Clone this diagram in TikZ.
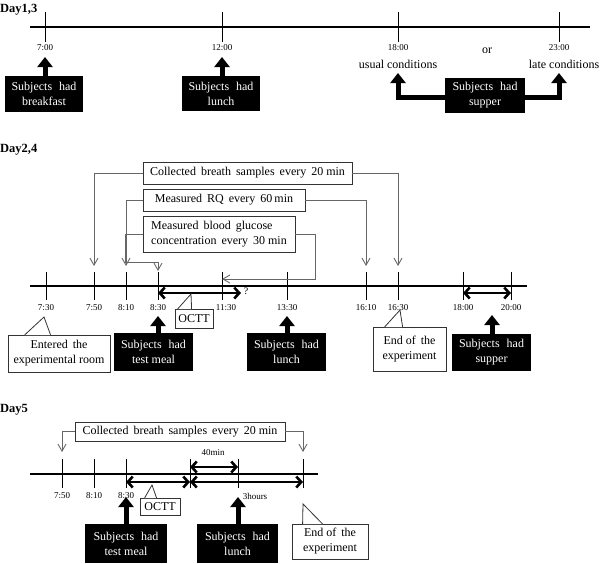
\documentclass[tikz,border=0pt]{standalone}
\usepackage{fontspec}
\setmainfont{Liberation Serif}
\usetikzlibrary{arrows.meta,calc}
\tikzset{
 tl/.style={line width=1.8pt},
 tk/.style={line width=0.8pt},
 lab/.style={font=\fontsize{9}{10}\selectfont, inner sep=0pt},
 mid/.style={font=\fontsize{12}{14}\selectfont, inner sep=0pt},
 dayl/.style={font=\bfseries\fontsize{12.5}{14}\selectfont, anchor=west, inner sep=0pt},
 bbox/.style={fill=black, text=white, font=\fontsize{12}{15}\selectfont, align=center, inner sep=0pt},
 wbox/.style={draw=black!80, fill=white, line width=0.8pt, font=\fontsize{12}{15}\selectfont, align=center, inner sep=0pt},
 uparr/.style={line width=5pt, line join=miter, -{Triangle[width=15pt,length=10pt]}},
 darr/.style={line width=2.6pt, {Straight Barb[length=5pt,width=11pt]}-{Straight Barb[length=5pt,width=11pt]}},
 conn/.style={draw=black!60, line width=0.9pt, -{Straight Barb[length=7pt,width=8pt]}},
 wedge/.style={draw=black!80, fill=white, line width=0.8pt},
}
\newcommand{\sh}{Subjects\hspace{7pt}had}
\begin{document}
\begin{tikzpicture}[x=1pt,y=-1pt]
\useasboundingbox (0,0) rectangle (600,563);
% ================= Day1,3 =================
\node[dayl] (d13) at (0,10) {Day1,3};
\coordinate (a0) at (30,27); \coordinate (a1) at (590,27);
\draw[tl] (a0) -- (a1);
\foreach \x in {45,222,398,559} \draw[tk] (\x,12) -- (\x,42);
\node[lab] (l700) at (45,48) {7:00};
\node[lab] (l1200) at (222,48) {12:00};
\node[lab] (l1800) at (398,48) {18:00};
\node[lab] (l2300) at (559,48) {23:00};
\node[mid] (or) at (487,51) {or};
\node[mid] (usual) at (398,64) {usual conditions};
\node[mid] (late) at (564,64) {late conditions};
\node[bbox, minimum width=78pt, minimum height=36pt] (bf) at (44,94) {\sh\\breakfast};
\node[bbox, minimum width=78pt, minimum height=35pt] (lu1) at (221,93.5) {\sh\\lunch};
\node[bbox, minimum width=80pt, minimum height=35pt] (su1) at (485,95.5) {\sh\\supper};
\coordinate (bfa) at (45,57); \coordinate (lua) at (222,57);
\coordinate (ua) at (398,73); \coordinate (la) at (559,73);
\draw[uparr] (bf.north -| bfa) -- (bfa);
\draw[uparr] (lu1.north -| lua) -- (lua);
\draw[uparr] ($(su1.west)+(1,2)$) -| (ua);
\draw[uparr] ($(su1.east)+(-1,2)$) -| (la);
% ================= Day2,4 =================
\node[dayl] (d24) at (0,150) {Day2,4};
\coordinate (b0) at (30,286); \coordinate (b1) at (527,286);
\draw[tl] (b0) -- (b1);
\foreach \x in {46,94,126,158,222,287,366,398,463,511} \draw[tk] (\x,272) -- (\x,300);
\node[lab] (m730) at (46,308) {7:30};
\node[lab] (m750) at (94,308) {7:50};
\node[lab] (m810) at (126,308) {8:10};
\node[lab] (m830) at (158,308) {8:30};
\node[lab] (m1130) at (226,308) {11:30};
\node[lab] (m1330) at (287,308) {13:30};
\node[lab] (m1610) at (366,308) {16:10};
\node[lab] (m1630) at (398,308) {16:30};
\node[lab] (m1800) at (463,308) {18:00};
\node[lab] (m2000) at (511,308) {20:00};
\coordinate (o1) at (158,293); \coordinate (o2) at (241,293);
\draw[darr] (o1) -- (o2);
\node[mid, font=\fontsize{10}{12}\selectfont] (q) at (246,291) {?};
\coordinate (s1) at (463,293); \coordinate (s2) at (511,293);
\draw[darr] (s1) -- (s2);
% boxes
\node[wbox, minimum width=209pt, minimum height=22pt] (cb) at (247.5,173) {Collected\hspace{5pt}breath\hspace{5pt}samples\hspace{5pt}every\hspace{5pt}20 min};
\node[wbox, minimum width=162pt, minimum height=22pt] (rq) at (224,200) {Measured\hspace{5pt}RQ\hspace{5pt}every\hspace{5pt}60\,min};
\node[wbox, minimum width=152pt, minimum height=36pt, align=left] (bg) at (219,234) {Measured\hspace{5pt}blood\hspace{5pt}glucose\\concentration\hspace{5pt}every\hspace{5pt}30 min};
\coordinate (c750) at (94,266); \coordinate (c1630) at (398,266);
\coordinate (c810) at (126,266); \coordinate (c1610) at (366,266);
\coordinate (g1) at (125,262); \coordinate (g2) at (158,271);
\coordinate (g3) at (315,279); \coordinate (g4) at (222,279);
\draw[conn] (cb.west) -| (c750);
\draw[conn] (cb.east) -| (c1630);
\draw[conn] (rq.west) -| (c810);
\draw[conn] (rq.east) -| (c1610);
\draw[conn] (bg.west) -| (g1) -| (g2);
\draw[conn] (bg.east) -| (g3) -- (g4);
% callouts
\node[wbox, minimum width=38pt, minimum height=19pt] (oc) at (194,318.5) {OCTT};
\draw[wedge] ($(oc.north west)+(3,0.4)$) -- (191,294) -- ($(oc.north west)+(17,0.4)$);
\node[wbox, minimum width=102pt, minimum height=37pt] (en) at (59,353.5) {Entered\hspace{5pt}the\\experimental room};
\draw[wedge] ($(en.north west)+(17,0.4)$) -- (44,317) -- ($(en.north west)+(43,0.4)$);
\node[wbox, minimum width=73pt, minimum height=44pt] (ee) at (409.5,349) {End of\hspace{5pt}the\\experiment};
\draw[wedge] ($(ee.north west)+(12,0.4)$) -- (400,310) -- ($(ee.north west)+(30,0.4)$);
% black boxes
\node[bbox, minimum width=79pt, minimum height=38pt] (tm2) at (153.5,352) {\sh\\test meal};
\node[bbox, minimum width=79pt, minimum height=38pt] (lu2) at (286.5,352) {\sh\\lunch};
\node[bbox, minimum width=79pt, minimum height=37pt] (su2) at (491.5,352.5) {\sh\\supper};
\coordinate (tma) at (158,316); \coordinate (lu2a) at (287,316); \coordinate (su2a) at (492,315);
\draw[uparr] (tm2.north -| tma) -- (tma);
\draw[uparr] (lu2.north -| lu2a) -- (lu2a);
\draw[uparr] (su2.north -| su2a) -- (su2a);
% ================= Day5 =================
\node[dayl] (d5) at (0,410) {Day5};
\coordinate (e0) at (30,474); \coordinate (e1) at (318,474);
\draw[tl] (e0) -- (e1);
\foreach \x in {62,94,126,190,238,303} \draw[tk] (\x,459) -- (\x,488);
\node[lab] (n750) at (62,496) {7:50};
\node[lab] (n810) at (94,496) {8:10};
\node[lab] (n830) at (126,496) {8:30};
\node[lab] (n3h) at (255,496) {3hours};
\node[lab] (n40) at (213,453) {40min};
\coordinate (f1) at (190,467); \coordinate (f2) at (238,467);
\coordinate (f3) at (126,482); \coordinate (f4) at (190,482); \coordinate (f5) at (303,482);
\draw[darr] (f1) -- (f2);
\draw[darr] (f3) -- (f4);
\draw[darr] (f4) -- (f5);
\node[wbox, minimum width=210pt, minimum height=19pt] (cb5) at (180,431.5) {Collected\hspace{5pt}breath\hspace{5pt}samples\hspace{5pt}every\hspace{5pt}20 min};
\coordinate (h1) at (62,452); \coordinate (h2) at (303,452);
\draw[conn] (cb5.west) -| (h1);
\draw[conn] (cb5.east) -| (h2);
\node[wbox, minimum width=40pt, minimum height=17pt] (oc5) at (160,506.5) {OCTT};
\draw[wedge] ($(oc5.north west)+(5,0.4)$) -- (152,485) -- ($(oc5.north west)+(17,0.4)$);
\node[wbox, minimum width=76pt, minimum height=35pt] (ee5) at (330,541.5) {End of\hspace{5pt}the\\experiment};
\draw[wedge] ($(ee5.north west)+(11,0.4)$) -- (303,504) -- ($(ee5.north west)+(31,0.4)$);
\node[bbox, minimum width=82pt, minimum height=39pt] (tm5) at (126,543.5) {\sh\\test meal};
\node[bbox, minimum width=81pt, minimum height=39pt] (lu5) at (237.5,543.5) {\sh\\lunch};
\coordinate (tm5a) at (126,497); \coordinate (lu5a) at (238,497);
\draw[uparr] (tm5.north -| tm5a) -- (tm5a);
\draw[uparr] (lu5.north -| lu5a) -- (lu5a);
\end{tikzpicture}
\end{document}
